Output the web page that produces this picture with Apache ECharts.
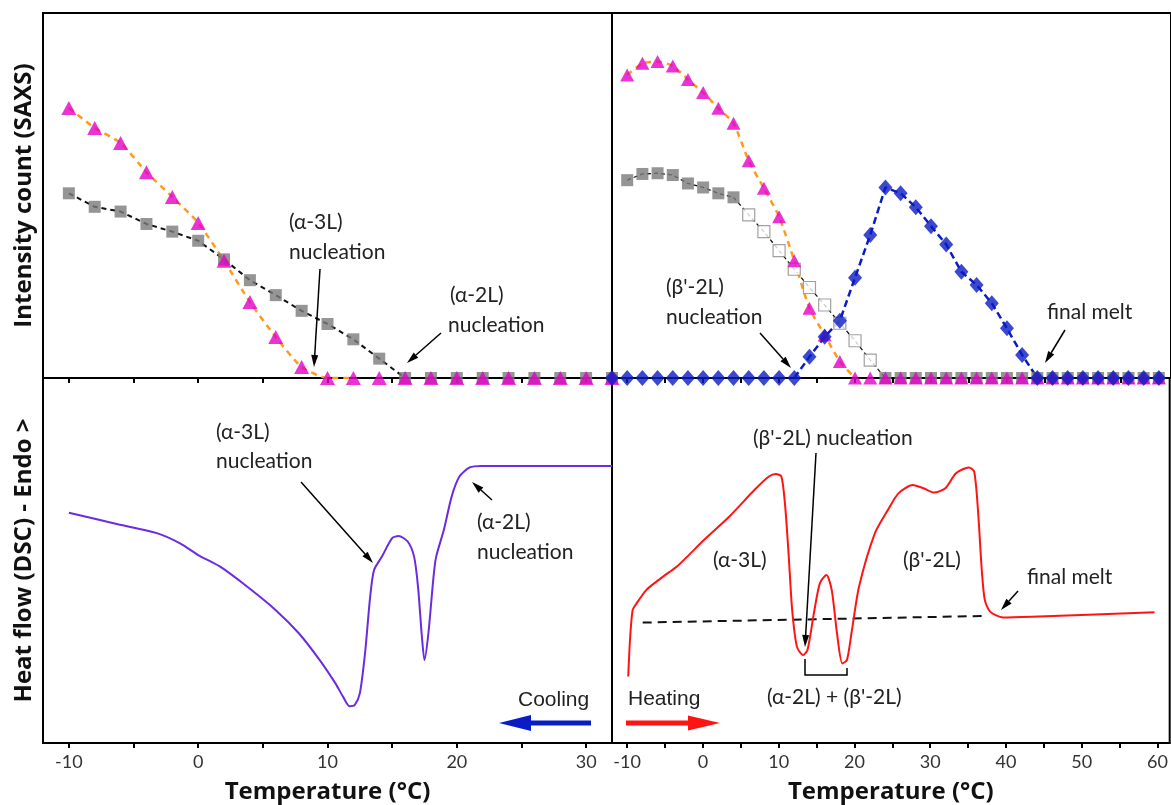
<!DOCTYPE html>
<html>
<head>
<meta charset="utf-8">
<script src="https://cdn.jsdelivr.net/npm/echarts@6/dist/echarts.min.js"></script>
<style>
  html, body { margin: 0; padding: 0; background: #fff; }
  #chart { width: 1171px; height: 805px; }
</style>
</head>
<body>
<div id="chart"></div>
<script>
// ---- SAXS, cooling (left top) ----
const coolT = [-10, -8, -6, -4, -2, 0, 2, 4, 6, 8, 10, 12, 14, 16, 18, 20, 22, 24, 26, 28, 30, 32]
const coolTri = [74.0, 68.5, 64.4, 56.4, 49.6, 42.5, 32.1, 20.8, 11.2, 3.0, 0, 0, 0, 0, 0, 0, 0, 0, 0, 0, 0, 0]
const coolSq = [50.6, 46.9, 45.6, 42.2, 40.1, 37.6, 32.5, 26.8, 22.7, 18.4, 14.8, 10.6, 5.3, 0, 0, 0, 0, 0, 0, 0, 0, 0]

// ---- SAXS, heating (right top) ----
const heatT = [-12, -10, -8, -6, -4, -2, 0, 2, 4, 6, 8, 10, 12, 14, 16, 18, 20, 22, 24, 26, 28, 30, 32, 34, 36, 38, 40, 42, 44, 46, 48, 50, 52, 54, 56, 58, 60]
// triangles and squares start at -10
const heatTri = [83.0, 86.2, 86.7, 85.5, 81.8, 78.2, 73.9, 69.8, 59.5, 52.0, 44.2, 32.1, 19.1, 11.8, 4.5, 0, 0, 0, 0, 0, 0, 0, 0, 0, 0, 0, 0, 0, 0, 0, 0, 0, 0, 0, 0, 0]
const heatSq = [54.2, 55.9, 56.1, 55.6, 53.3, 52.2, 50.6, 49.5, 44.7, 40.1, 34.9, 29.8, 24.8, 20.0, 15.0, 10.2, 4.9, 0, 0, 0, 0, 0, 0, 0, 0, 0, 0, 0, 0, 0, 0, 0, 0, 0, 0, 0]
const heatSqLastFilled = 4
const heatDia = [0, 0, 0, 0, 0, 0, 0, 0, 0, 0, 0, 0, 0, 5.8, 11.3, 15.7, 27.5, 39.2, 52.2, 50.6, 46.8, 41.6, 36.6, 29.1, 25.5, 20.5, 13.6, 6.3, 0, 0, 0, 0, 0, 0, 0, 0, 0]

// ---- DSC cooling (left bottom) ----
const coolDscT = [-10, -6.3, -3.2, -1.4, 0, 1.7, 3.8, 6.0, 7.8, 9.4, 10.6, 11.2, 11.7, 12.1, 12.5, 12.9, 13.3, 13.6, 14.2, 15.0, 15.5, 16.2, 16.7, 17.0, 17.3, 17.5, 17.8, 18.2, 18.4, 19.0, 19.6, 20.2, 21.0, 21.9, 32]
const coolDscV = [63.1, 60.0, 57.5, 54.7, 51.5, 48.3, 42.8, 36.4, 30.0, 22.7, 16.4, 12.7, 10.1, 10.4, 13.6, 24.5, 40.1, 47.4, 51.0, 56.1, 56.7, 55.2, 51.0, 42.8, 29.1, 22.7, 30.0, 45.6, 51.0, 58.4, 67.5, 73.0, 75.5, 75.9, 75.9]

// ---- DSC heating (right bottom) ----
const heatDscT = [-9.86, -9.6, -9.28, -8.9, -7.48, -5.57, -3.2, 0.13, 3.46, 6.79, 8.7, 9.63, 10.35, 10.82, 11.3, 11.78, 12.4, 13.2, 13.8, 14.64, 15.44, 16.3, 17.0, 17.7, 18.4, 19.0, 19.6, 20.6, 22.7, 24.4, 25.8, 27.7, 29.1, 30.5, 32.0, 33.4, 35.1, 35.8, 36.3, 36.8, 37.2, 37.9, 39.6, 43.4, 59.6]
const heatDscV = [18.2, 29.1, 36.4, 37.8, 41.9, 45.1, 48.8, 55.6, 62.0, 69.3, 73.0, 73.7, 73.0, 65.7, 52.0, 36.4, 26.4, 24.1, 25.5, 35.5, 43.8, 46.0, 41.9, 30.0, 21.8, 22.7, 30.0, 42.8, 57.5, 63.8, 68.4, 70.7, 69.8, 68.6, 69.8, 73.9, 75.5, 74.3, 63.8, 47.4, 39.2, 36.0, 34.4, 34.6, 35.8]
const baseT = [-7.95, 37.2]
const baseV = [33.0, 34.8]

const leftLabels = [-10, 0, 10, 20, 30]
const leftTicks = [-10, -5, 0, 5, 10, 15, 20, 25, 30]
const rightLabels = [-10, 0, 10, 20, 30, 40, 50, 60]
const rightTicks = [-10, -5, 0, 5, 10, 15, 20, 25, 30, 35, 40, 45, 50, 55, 60]

const pairs = (xs, ys) => xs.map((x, i) => [x, ys[i]])
const upTo = (d, hi) => d.filter(p => p[0] <= hi)
const between = (d, lo, hi) => d.filter(p => p[0] >= lo && p[0] <= hi)

const MAG = '#E300C8'
const GRAY = '#7B7B7B'
const ORANGE = '#FF9A1E'
const BLUE = '#0A1CC4'
const PURPLE = '#6A2BE2'
const RED = '#FF1414'
const TXT = '#222'
const ANNO_FONT = '21px Lato'
const TITLE = { fontFamily: 'Open Sans', fontWeight: 'bold', fontSize: 24, color: '#111' }

const chart = echarts.init(document.getElementById('chart'))

const xAx = (grid, min, max, labels, ticks, showLabel) => ({
  type: 'value', gridIndex: grid, min: min, max: max,
  splitLine: { show: false },
  axisLine: { show: true, onZero: false, lineStyle: { color: '#000', width: 2 } },
  axisTick: { show: true, length: 5, customValues: ticks, lineStyle: { color: '#000', width: 2 } },
  axisLabel: { show: showLabel, customValues: labels, margin: 10, fontFamily: 'Lato', fontSize: 18, color: '#333' },
  name: showLabel ? 'Temperature (°C)' : '',
  nameLocation: 'middle', nameGap: 37,
  nameTextStyle: TITLE
})
const yAx = (grid, name) => ({
  type: 'value', gridIndex: grid, min: 0, max: 100,
  splitLine: { show: false }, axisTick: { show: false }, axisLabel: { show: false },
  axisLine: { show: true, onZero: false, lineStyle: { color: '#000', width: 2 } },
  name: name, nameLocation: 'middle', nameRotate: 90, nameGap: 7,
  nameTextStyle: TITLE
})

// annotation helpers (pixel positions)
const txt = (x, y, s, extra) => ({
  type: 'text', x: x, y: y, z: 100,
  style: Object.assign({ text: s, fill: TXT, font: ANNO_FONT, textVerticalAlign: 'middle' }, extra || {})
})
const arrow = (x1, y1, x2, y2, color, w, hl, hw) => {
  const a = Math.atan2(y2 - y1, x2 - x1)
  const bx = x2 - hl * Math.cos(a), by = y2 - hl * Math.sin(a)
  const px = -Math.sin(a) * hw / 2, py = Math.cos(a) * hw / 2
  return [
    { type: 'line', z: 100, shape: { x1: x1, y1: y1, x2: bx, y2: by }, style: { stroke: color, lineWidth: w } },
    { type: 'polygon', z: 100, shape: { points: [[x2, y2], [bx + px, by + py], [bx - px, by - py]] }, style: { fill: color } }
  ]
}

const graphics = [
  txt(289, 222, '(α-3L)'), txt(289, 252, 'nucleation'),
  txt(450, 295, '(α-2L)'), txt(448, 325, 'nucleation'),
  txt(666, 287, "(β'-2L)"), txt(666, 317, 'nucleation'),
  txt(1047, 312, 'final melt'),
  txt(216, 432, '(α-3L)'), txt(216, 461, 'nucleation'),
  txt(477, 522, '(α-2L)'), txt(477, 552, 'nucleation'),
  txt(518, 700, 'Cooling', { font: '21px "Liberation Sans"' }),
  txt(753, 438, "(β'-2L) nucleation"),
  txt(713, 560, '(α-3L)'), txt(903, 560, "(β'-2L)"),
  txt(1027, 577, 'final melt'),
  txt(767, 697, "(α-2L) + (β'-2L)"),
  txt(628, 699, 'Heating', { font: '21px "Liberation Sans"' }),
  { type: 'polyline', z: 100, shape: { points: [[805, 659], [805, 675], [847, 675], [847, 668]] }, style: { stroke: '#000', lineWidth: 1.5, fill: null } }
].concat(
  arrow(320, 269, 314, 367, '#000', 1.5, 12, 7),
  arrow(441, 333, 407, 363, '#000', 1.5, 12, 7),
  arrow(760, 333, 791, 368, '#000', 1.5, 12, 7),
  arrow(1065, 330, 1045, 363, '#000', 1.5, 12, 7),
  arrow(301, 482, 373, 563, '#000', 1.5, 12, 7),
  arrow(492, 500, 472, 482, '#000', 1.5, 12, 7),
  arrow(816, 453, 805, 647, '#000', 1.5, 12, 7),
  arrow(1018, 591, 1001, 610, '#000', 1.5, 12, 7),
  arrow(591, 723, 499, 723, BLUE, 5, 32, 16),
  arrow(626, 723, 720, 723, RED, 5, 32, 15)
)

const coolTriD = pairs(coolT, coolTri)
const coolSqD = pairs(coolT, coolSq)
const heatTriD = pairs(heatT.slice(1), heatTri)
const heatSqD = pairs(heatT.slice(1), heatSq)
const heatDiaD = pairs(heatT, heatDia)

const option = {
  animation: false,
  backgroundColor: '#fff',
  grid: [
    { left: 43, top: 13, width: 569, height: 365, show: true, borderColor: '#000', borderWidth: 2 },
    { left: 612, top: 13, right: -5, height: 365, show: true, borderColor: '#000', borderWidth: 2 },
    { left: 43, top: 378, width: 569, height: 365, show: true, borderColor: '#000', borderWidth: 2 },
    { left: 612, top: 378, right: -5, height: 365, show: true, borderColor: '#000', borderWidth: 2 }
  ],
  xAxis: [
    xAx(0, -12, 32, leftLabels, leftTicks, false),
    xAx(1, -12, 61.6, rightLabels, rightTicks, false),
    xAx(2, -12, 32, leftLabels, leftTicks, true),
    xAx(3, -12, 61.6, rightLabels, rightTicks, true)
  ],
  yAxis: [
    yAx(0, 'Intensity count (SAXS)'),
    yAx(1, ''),
    yAx(2, 'Heat flow (DSC) - Endo >'),
    yAx(3, '')
  ],
  series: [
    // cooling SAXS
    { type: 'line', xAxisIndex: 0, yAxisIndex: 0, data: upTo(coolSqD, 16), symbol: 'none', z: 3,
      lineStyle: { color: '#111', width: 2, type: [5, 4] } },
    { type: 'line', xAxisIndex: 0, yAxisIndex: 0, data: upTo(coolTriD, 12), symbol: 'none', smooth: 0.2, z: 3,
      lineStyle: { color: ORANGE, width: 2.5, type: [6, 5] } },
    { type: 'scatter', xAxisIndex: 0, yAxisIndex: 0, data: coolSqD, symbol: 'rect', symbolSize: 12, clip: false, z: 4,
      itemStyle: { color: GRAY } },
    { type: 'scatter', xAxisIndex: 0, yAxisIndex: 0, data: coolTriD, symbol: 'triangle', symbolSize: [15, 14], clip: false, z: 5,
      itemStyle: { color: MAG } },
    // heating SAXS
    { type: 'line', xAxisIndex: 1, yAxisIndex: 1, data: upTo(heatSqD, 24), symbol: 'none', z: 3,
      lineStyle: { color: '#111', width: 1.3, type: [4, 3] } },
    { type: 'line', xAxisIndex: 1, yAxisIndex: 1, data: upTo(heatTriD, 21), symbol: 'none', smooth: 0.2, z: 3,
      lineStyle: { color: ORANGE, width: 2.5, type: [6, 5] } },
    { type: 'line', xAxisIndex: 1, yAxisIndex: 1, data: between(heatDiaD, 12, 44), symbol: 'none', z: 3,
      lineStyle: { color: BLUE, width: 2.5, type: [7, 4] } },
    { type: 'scatter', xAxisIndex: 1, yAxisIndex: 1, clip: false, z: 4, symbol: 'rect', symbolSize: 12,
      data: heatSqD.map(p => ({
        value: p,
        itemStyle: (p[0] <= heatSqLastFilled || p[1] === 0) ? { color: GRAY } : { color: '#fff', borderColor: '#8a8a8a', borderWidth: 1.2 }
      })) },
    { type: 'scatter', xAxisIndex: 1, yAxisIndex: 1, data: heatTriD, symbol: 'triangle', symbolSize: [14, 13], clip: false, z: 5,
      itemStyle: { color: MAG } },
    { type: 'scatter', xAxisIndex: 1, yAxisIndex: 1, data: heatDiaD, symbol: 'diamond', symbolSize: [14, 16], clip: false, z: 6,
      itemStyle: { color: BLUE } },
    // DSC
    { type: 'line', xAxisIndex: 2, yAxisIndex: 2, data: pairs(coolDscT, coolDscV), symbol: 'none',
      smooth: 0.25, lineStyle: { color: PURPLE, width: 2 } },
    { type: 'line', xAxisIndex: 3, yAxisIndex: 3, data: pairs(baseT, baseV), symbol: 'none',
      lineStyle: { color: '#111', width: 2, type: [9, 6] } },
    { type: 'line', xAxisIndex: 3, yAxisIndex: 3, data: pairs(heatDscT, heatDscV), symbol: 'none',
      smooth: 0.25, lineStyle: { color: RED, width: 2 } }
  ],
  graphic: graphics
}

chart.setOption(option)
</script>
</body>
</html>
